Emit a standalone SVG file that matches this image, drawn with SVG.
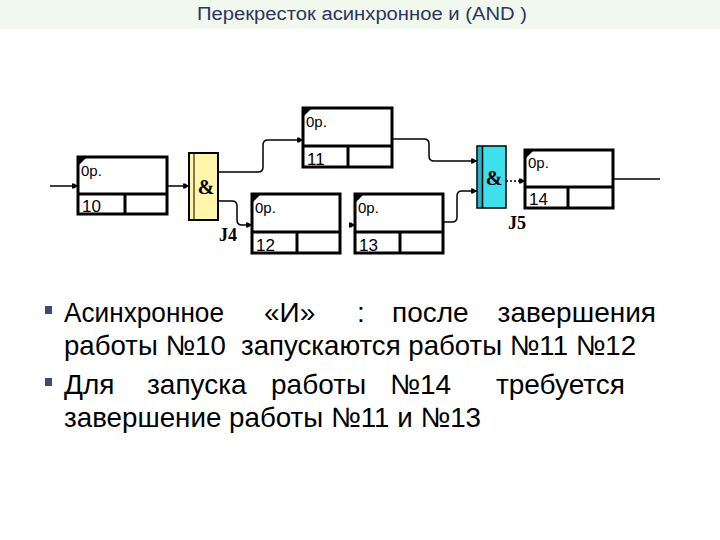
<svg xmlns="http://www.w3.org/2000/svg" width="720" height="540" viewBox="0 0 720 540">
<defs>
<marker id="arr" markerWidth="7" markerHeight="7" refX="6" refY="3.5" orient="auto" markerUnits="userSpaceOnUse">
<path d="M0,1 L2,1 L6,3.5 L2,6 L0,6 z" fill="#000"/>
</marker>
</defs>
<style>
.box{fill:#fff;stroke:#000;stroke-width:3}
.div{stroke:#000;stroke-width:3}
.op{font-family:"Liberation Sans",Arial,sans-serif;font-size:15px;fill:#000}
.num{font-family:"Liberation Sans",Arial,sans-serif;font-size:17px;fill:#000}
.con{fill:none;stroke:#000;stroke-width:1.5}
.amp{font-family:"Liberation Serif","Times New Roman",serif;font-weight:bold;font-size:20px;fill:#000}
.jl{font-family:"Liberation Serif","Times New Roman",serif;font-weight:bold;font-size:18px;fill:#000}
.body{font-family:"Liberation Sans",Arial,sans-serif;font-size:28px;fill:#000}
.bul{fill:#3c4a78}
</style>
<rect x="0" y="0" width="720" height="29" fill="#f1f9ef"/>
<text x="362" y="20" text-anchor="middle" font-family="'Liberation Sans',Arial,sans-serif" font-size="18" fill="#2e3460" textLength="330" lengthAdjust="spacingAndGlyphs">Перекресток асинхронное и (AND )</text>

<g id="connectors">
<path class="con" d="M50,186 H78" marker-end="url(#arr)"/>
<path class="con" d="M168,186 H189" marker-end="url(#arr)"/>
<path class="con" d="M218,172 H258 Q263,172 263,167 V145 Q263,140 268,140 H303" marker-end="url(#arr)"/>
<path class="con" d="M218,201 H232 Q237,201 237,206 V220 Q237,225 242,225 H252" marker-end="url(#arr)"/>
<path class="con" d="M349,225 H355" marker-end="url(#arr)"/>
<path class="con" d="M392,139 H424 Q429,139 429,144 V156 Q429,161 434,161 H477" marker-end="url(#arr)"/>
<path class="con" d="M443,222 H452 Q457,222 457,217 V196 Q457,191 462,191 H477" marker-end="url(#arr)"/>
<path class="con" d="M506,181 H525" stroke-dasharray="2,2" marker-end="url(#arr)"/>
<path class="con" d="M613,179 H660"/>
</g>

<g id="n10">
<rect class="box" x="78" y="157" width="89" height="57"/>
<line class="div" x1="78" y1="194" x2="167" y2="194"/>
<line class="div" x1="125" y1="194" x2="125" y2="214"/>
<path d="M79,158 L86,158 L79,165 z" fill="#000"/>
<text class="op" x="81" y="176">0р.</text>
<text class="num" x="82" y="212">10</text>
</g>

<g id="n11">
<rect class="box" x="303" y="108" width="89" height="59"/>
<line class="div" x1="303" y1="146" x2="392" y2="146"/>
<line class="div" x1="348" y1="146" x2="348" y2="167"/>
<path d="M304,109 L311,109 L304,116 z" fill="#000"/>
<text class="op" x="306" y="127">0р.</text>
<text class="num" x="307" y="165">11</text>
</g>

<g id="n12">
<rect class="box" x="252" y="194" width="88" height="59"/>
<line class="div" x1="252" y1="232" x2="340" y2="232"/>
<line class="div" x1="297" y1="232" x2="297" y2="253"/>
<path d="M253,195 L260,195 L253,202 z" fill="#000"/>
<text class="op" x="255" y="213">0р.</text>
<text class="num" x="256" y="251">12</text>
</g>

<g id="n13">
<rect class="box" x="355" y="194" width="88" height="59"/>
<line class="div" x1="355" y1="232" x2="443" y2="232"/>
<line class="div" x1="400" y1="232" x2="400" y2="253"/>
<path d="M356,195 L363,195 L356,202 z" fill="#000"/>
<text class="op" x="358" y="213">0р.</text>
<text class="num" x="359" y="251">13</text>
</g>

<g id="n14">
<rect class="box" x="525" y="150" width="88" height="58"/>
<line class="div" x1="525" y1="187" x2="613" y2="187"/>
<line class="div" x1="568" y1="187" x2="568" y2="208"/>
<path d="M526,151 L533,151 L526,158 z" fill="#000"/>
<text class="op" x="528" y="168">0р.</text>
<text class="num" x="529" y="205">14</text>
</g>

<g id="J4">
<rect x="189" y="153" width="29" height="67" fill="#fff6ac" stroke="#000" stroke-width="2"/>
<line x1="194" y1="153" x2="194" y2="220" stroke="#000" stroke-width="1"/>
<text class="amp" x="206" y="194" text-anchor="middle">&amp;</text>
<text class="jl" x="219" y="241">J4</text>
</g>

<g id="J5">
<rect x="477" y="146" width="29" height="62" fill="#3ee0ee" stroke="#000" stroke-width="1.5"/>
<rect x="478" y="147" width="4" height="60" fill="#27b4c4"/>
<line x1="482.5" y1="146" x2="482.5" y2="208" stroke="#000" stroke-width="1.5"/>
<text class="amp" x="494" y="185" text-anchor="middle">&amp;</text>
<text class="jl" x="508" y="229">J5</text>
</g>

<g id="text">
<rect class="bul" x="45" y="306" width="7" height="8"/>
<rect class="bul" x="45" y="378" width="7" height="8"/>
<text class="body" x="64" y="322" textLength="160" lengthAdjust="spacingAndGlyphs">Асинхронное</text>
<text class="body" x="264" y="322">«И»</text>
<text class="body" x="357" y="322">:</text>
<text class="body" x="392" y="322">после</text>
<text class="body" x="656" y="322" text-anchor="end">завершения</text>
<text class="body" x="64" y="355" xml:space="preserve" textLength="572" lengthAdjust="spacingAndGlyphs">работы №10  запускаются работы №11 №12</text>
<text class="body" x="64" y="394">Для</text>
<text class="body" x="147" y="394">запуска</text>
<text class="body" x="271" y="394">работы</text>
<text class="body" x="390" y="394">№14</text>
<text class="body" x="625" y="394" text-anchor="end">требуется</text>
<text class="body" x="64" y="427" textLength="417" lengthAdjust="spacingAndGlyphs">завершение работы №11 и №13</text>
</g>
</svg>
